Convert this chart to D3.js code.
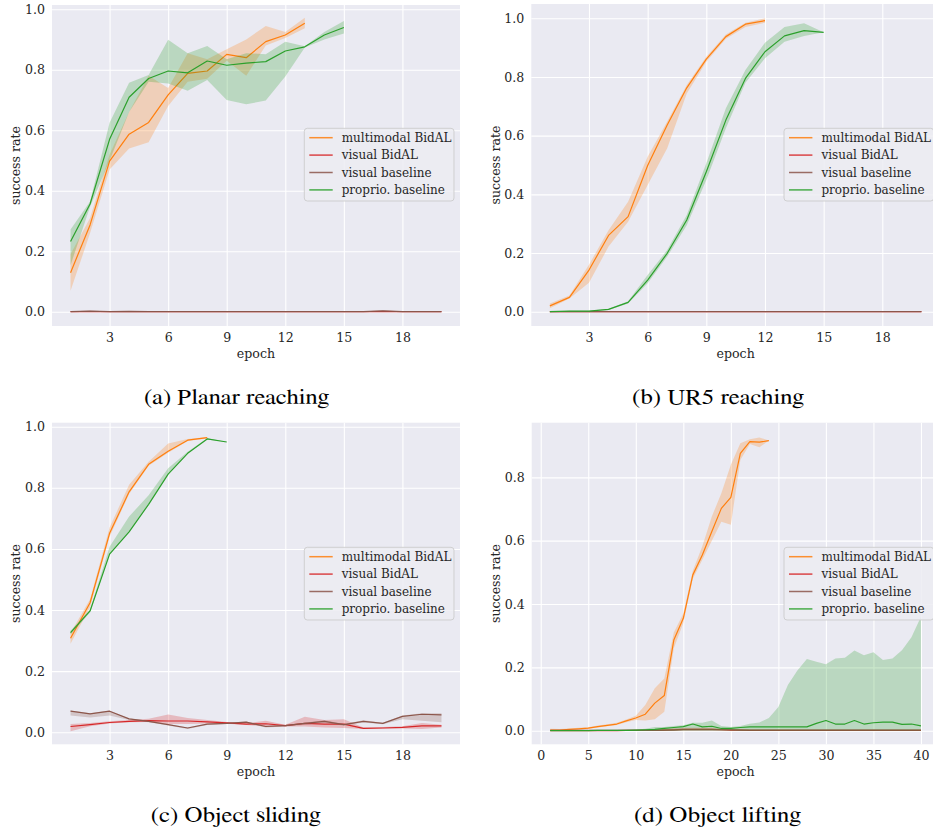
<!DOCTYPE html>
<html>
<head>
<meta charset="utf-8">
<script src="https://cdn.jsdelivr.net/npm/d3@7"></script>
<style>
  html, body { margin: 0; padding: 0; background: #ffffff; }
  svg { display: block; }
  .caption { font-family: "Nimbus Roman", "Nimbus Roman No9 L", "FreeSerif", "TeX Gyre Termes", "Liberation Serif", "DejaVu Serif Condensed", "DejaVu Serif", serif; font-stretch: condensed; }
</style>
</head>
<body>
<svg id="chart" width="933" height="830"></svg>
<script>
// ---------------- DATA ----------------
const seriesNames = ["multimodal BidAL", "visual BidAL", "visual baseline", "proprio. baseline"];
const seriesColors = ["#ff7f0e", "#d62728", "#8c564b", "#2ca02c"];
const captions = ["(a) Planar reaching", "(b) UR5 reaching", "(c) Object sliding", "(d) Object lifting"];

const ticksA = [3, 6, 9, 12, 15, 18];
const ticksD = [0, 5, 10, 15, 20, 25, 30, 35, 40];
const yTicksFull = [0.0, 0.2, 0.4, 0.6, 0.8, 1.0];
const yTicksD = [0.0, 0.2, 0.4, 0.6, 0.8];

// (a) Planar reaching
const aMultiMean = [0.129,0.287,0.498,0.587,0.626,0.717,0.788,0.796,0.851,0.840,0.893,0.915,0.954];
const aMultiLo   = [0.069,0.260,0.470,0.540,0.560,0.680,0.760,0.770,0.830,0.780,0.880,0.905,0.937];
const aMultiHi   = [0.190,0.310,0.520,0.660,0.780,0.740,0.855,0.835,0.868,0.900,0.945,0.925,0.972];
const aVisMean   = [0,0,0,0,0,0,0,0,0,0,0,0,0,0,0,0,0,0,0,0];
const aVisLo     = [0,0,0,0,0,0,0,0,0,0,0,0,0,0,0,0,0,0,0,0];
const aVisHi     = [0,0.001,0,0.001,0,0,0,0,0,0,0,0,0,0,0,0,0.001,0,0,0];
const aBaseMean  = [0,0.002,0,0.001,0,0,0,0,0,0,0,0,0,0,0,0,0.003,0,0,0];
const aBaseLo    = [0,0,0,0,0,0,0,0,0,0,0,0,0,0,0,0,0,0,0,0];
const aBaseHi    = [0.001,0.004,0.001,0.002,0.001,0.001,0.001,0,0,0,0,0,0,0,0,0.001,0.005,0.001,0,0];
const aProMean   = [0.232,0.356,0.570,0.709,0.771,0.796,0.790,0.829,0.815,0.822,0.827,0.862,0.876,0.915,0.940];
const aProLo     = [0.154,0.347,0.500,0.660,0.760,0.755,0.731,0.766,0.700,0.686,0.698,0.778,0.874,0.900,0.920];
const aProHi     = [0.272,0.364,0.625,0.757,0.783,0.899,0.855,0.879,0.835,0.855,0.851,0.893,0.878,0.925,0.961];

// (b) UR5 reaching
const bMultiMean = [0.020,0.049,0.142,0.260,0.324,0.498,0.636,0.763,0.861,0.9375,0.980,0.992];
const bMultiLo   = [0.012,0.045,0.099,0.222,0.307,0.432,0.557,0.744,0.852,0.930,0.970,0.985];
const bMultiHi   = [0.028,0.055,0.160,0.278,0.375,0.528,0.648,0.773,0.869,0.945,0.985,1.000];
const bVisMean   = [0,0,0,0,0,0,0,0,0,0,0,0,0,0,0,0,0,0,0,0];
const bBaseMean  = [0,0,0,0,0,0,0,0,0,0,0,0,0,0,0,0,0,0,0,0];
const bProMean   = [0,0.002,0.002,0.008,0.032,0.108,0.199,0.3125,0.477,0.653,0.795,0.886,0.940,0.958,0.952];
const bProLo     = [0,0.001,0.001,0.006,0.028,0.097,0.188,0.295,0.449,0.625,0.780,0.864,0.920,0.940,0.952];
const bProHi     = [0,0.003,0.003,0.010,0.036,0.125,0.210,0.330,0.506,0.693,0.824,0.917,0.970,0.983,0.952];

// (c) Object sliding
const cMultiMean = [0.3075,0.424,0.651,0.787,0.877,0.920,0.956,0.964];
const cMultiLo   = [0.290,0.410,0.640,0.780,0.872,0.915,0.953,0.961];
const cMultiHi   = [0.325,0.435,0.670,0.810,0.885,0.945,0.960,0.966];
const cVisMean   = [0.019,0.025,0.032,0.036,0.038,0.037,0.037,0.034,0.031,0.027,0.028,0.022,0.029,0.027,0.027,0.013,0.014,0.016,0.021,0.021];
const cVisLo     = [0.003,0.020,0.029,0.033,0.034,0.027,0.027,0.029,0.028,0.024,0.019,0.019,0.019,0.016,0.014,0.011,0.012,0.012,0.011,0.016];
const cVisHi     = [0.027,0.030,0.036,0.040,0.044,0.058,0.047,0.040,0.034,0.030,0.038,0.025,0.051,0.040,0.043,0.016,0.017,0.020,0.030,0.025];
const cBaseMean  = [0.069,0.060,0.069,0.044,0.036,0.025,0.014,0.027,0.029,0.033,0.019,0.022,0.029,0.036,0.025,0.036,0.029,0.052,0.059,0.057];
const cBaseLo    = [0.055,0.048,0.055,0.040,0.033,0.022,0.011,0.024,0.027,0.030,0.016,0.019,0.025,0.031,0.021,0.032,0.026,0.043,0.038,0.033];
const cBaseHi    = [0.071,0.062,0.071,0.045,0.038,0.027,0.016,0.029,0.031,0.035,0.021,0.024,0.031,0.039,0.027,0.039,0.031,0.055,0.062,0.062];
const cProMean   = [0.326,0.397,0.583,0.656,0.746,0.845,0.913,0.960,0.950];
const cProLo     = [0.320,0.392,0.583,0.656,0.746,0.845,0.913,0.958,0.950];
const cProHi     = [0.332,0.402,0.607,0.706,0.776,0.864,0.918,0.962,0.950];

// (d) Object lifting
const dMultiMean = [0.002,0.002,0.004,0.006,0.008,0.013,0.017,0.021,0.031,0.040,0.052,0.087,0.111,0.286,0.355,0.492,0.555,0.629,0.702,0.737,0.876,0.913,0.911,0.916];
const dMultiLo   = [0.000,0.000,0.002,0.004,0.006,0.010,0.014,0.018,0.027,0.034,0.032,0.036,0.060,0.260,0.340,0.480,0.540,0.600,0.660,0.650,0.855,0.905,0.895,0.916];
const dMultiHi   = [0.006,0.005,0.007,0.009,0.011,0.016,0.020,0.025,0.035,0.047,0.081,0.134,0.165,0.310,0.370,0.505,0.582,0.676,0.750,0.840,0.908,0.920,0.926,0.916];
const dVisMean   = [0,0,0,0,0,0,0,0,0.001,0.001,0.001,0.001,0.002,0.003,0.004,0.004,0.004,0.004,0.003,0.002,0.002,0.001,0.001,0.001,0.001,0.001,0.001,0.001,0.001,0.001,0.001,0.001,0.001,0.001,0.001,0.001,0.001,0.001,0.001,0.001];
const dVisLo     = [0,0,0,0,0,0,0,0,0,0,0,0,0,0,0,0,0,0,0,0,0,0,0,0,0,0,0,0,0,0,0,0,0,0,0,0,0,0,0,0];
const dVisHi     = [0.001,0.001,0.001,0.001,0.001,0.001,0.001,0.001,0.002,0.002,0.003,0.004,0.006,0.008,0.009,0.009,0.009,0.009,0.008,0.006,0.005,0.003,0.003,0.003,0.003,0.003,0.003,0.003,0.003,0.003,0.003,0.003,0.003,0.003,0.003,0.003,0.003,0.003,0.003,0.003];
const dBaseMean  = [0.001,0.001,0.001,0.001,0.001,0.001,0.001,0.001,0.001,0.001,0.001,0.001,0.002,0.002,0.003,0.003,0.003,0.003,0.003,0.003,0.002,0.002,0.002,0.002,0.002,0.002,0.002,0.002,0.002,0.002,0.002,0.002,0.002,0.002,0.002,0.002,0.002,0.002,0.002,0.002];
const dProMean   = [0,0,0,0,0,0.001,0.001,0.001,0.001,0.002,0.003,0.004,0.007,0.010,0.013,0.021,0.012,0.014,0.007,0.007,0.010,0.012,0.012,0.012,0.012,0.012,0.012,0.012,0.023,0.032,0.021,0.021,0.032,0.021,0.025,0.027,0.027,0.020,0.021,0.015];
const dProLo     = [0,0,0,0,0,0,0,0,0,0,0,0,0,0,0,0,0,0,0,0,0,0,0,0,0,0,0,0,0,0,0,0,0,0,0,0,0,0,0,0];
const dProHi     = [0.002,0.002,0.002,0.002,0.002,0.002,0.002,0.002,0.003,0.004,0.006,0.012,0.012,0.015,0.017,0.025,0.025,0.032,0.015,0.012,0.015,0.022,0.026,0.040,0.075,0.144,0.190,0.226,0.218,0.210,0.228,0.230,0.253,0.238,0.248,0.223,0.228,0.254,0.295,0.360];

// ---------------- LAYOUT ----------------
const panels = [
  { box: {l: 52, r: 460, t: 5, b: 326}, xDom: [0.05, 20.95], yDom: [-0.0473, 1.0142], xTicks: ticksA, yTicks: yTicksFull,
    ylabX: 15, legend: {x: 304.3, y: 128.3}, cap: {x: 236.5, y: 403.5, w: 185},
    series: [[aMultiMean, aMultiLo, aMultiHi], [aVisMean, aVisLo, aVisHi], [aBaseMean, aBaseLo, aBaseHi], [aProMean, aProLo, aProHi]] },
  { box: {l: 531.3, r: 940, t: 4, b: 326}, xDom: [0.05, 20.95], yDom: [-0.0487, 1.0487], xTicks: ticksA, yTicks: yTicksFull,
    ylabX: 495, legend: {x: 784, y: 128.3}, cap: {x: 718, y: 403.5, w: 172},
    series: [[bMultiMean, bMultiLo, bMultiHi], [bVisMean, bVisMean, bVisMean], [bBaseMean, bBaseMean, bBaseMean], [bProMean, bProLo, bProHi]] },
  { box: {l: 52, r: 460, t: 422.7, b: 744.3}, xDom: [0.05, 20.95], yDom: [-0.0393, 1.0131], xTicks: ticksA, yTicks: yTicksFull,
    ylabX: 15, legend: {x: 304.3, y: 547.3}, cap: {x: 235.7, y: 821.7, w: 170},
    series: [[cMultiMean, cMultiLo, cMultiHi], [cVisMean, cVisLo, cVisHi], [cBaseMean, cBaseLo, cBaseHi], [cProMean, cProLo, cProHi]] },
  { box: {l: 531.7, r: 939.5, t: 422.7, b: 744.3}, xDom: [-0.95, 41.95], yDom: [-0.043, 0.9725], xTicks: ticksD, yTicks: yTicksD,
    ylabX: 495, legend: {x: 784, y: 547.3}, cap: {x: 717.5, y: 821.7, w: 167},
    series: [[dMultiMean, dMultiLo, dMultiHi], [dVisMean, dVisLo, dVisHi], [dBaseMean, dBaseMean, dBaseMean], [dProMean, dProLo, dProHi]] }
];

const svg = d3.select("#chart");
svg.append("rect").attr("width", 933).attr("height", 830).attr("fill", "#ffffff");

const tickFont = "'DejaVu Serif', serif";
const textColor = "#262626";

panels.forEach((p, pi) => {
  const x = d3.scaleLinear().domain(p.xDom).range([p.box.l, p.box.r]);
  const y = d3.scaleLinear().domain(p.yDom).range([p.box.b, p.box.t]);
  const g = svg.append("g");
  const clipId = "clip" + pi;
  g.append("clipPath").attr("id", clipId).append("rect")
    .attr("x", p.box.l).attr("y", p.box.t).attr("width", p.box.r - p.box.l).attr("height", p.box.b - p.box.t);

  g.append("rect").attr("x", p.box.l).attr("y", p.box.t)
    .attr("width", p.box.r - p.box.l).attr("height", p.box.b - p.box.t).attr("fill", "#eaeaf2");

  const xGrid = d3.axisBottom(x).tickValues(p.xTicks).tickSize(-(p.box.b - p.box.t)).tickFormat("");
  const gx = g.append("g").attr("transform", `translate(0,${p.box.b})`).call(xGrid);
  gx.select(".domain").remove();
  gx.selectAll("line").attr("stroke", "#ffffff").attr("stroke-width", 1.1);

  const yGrid = d3.axisLeft(y).tickValues(p.yTicks).tickSize(-(p.box.r - p.box.l)).tickFormat("");
  const gy = g.append("g").attr("transform", `translate(${p.box.l},0)`).call(yGrid);
  gy.select(".domain").remove();
  gy.selectAll("line").attr("stroke", "#ffffff").attr("stroke-width", 1.1);

  const xLab = d3.axisBottom(x).tickValues(p.xTicks).tickSize(0).tickPadding(7).tickFormat(d3.format("d"));
  const gxl = g.append("g").attr("transform", `translate(0,${p.box.b})`).call(xLab);
  gxl.select(".domain").remove();
  gxl.selectAll("text").attr("font-family", tickFont).attr("font-size", 12.6).attr("fill", textColor);

  const yLab = d3.axisLeft(y).tickValues(p.yTicks).tickSize(0).tickPadding(7).tickFormat(d3.format(".1f"));
  const gyl = g.append("g").attr("transform", `translate(${p.box.l},0)`).call(yLab);
  gyl.select(".domain").remove();
  gyl.selectAll("text").attr("font-family", tickFont).attr("font-size", 12.6).attr("fill", textColor);

  g.append("text").attr("x", (p.box.l + p.box.r) / 2)
    .attr("y", p.box.b + 31.5).attr("text-anchor", "middle")
    .attr("font-family", tickFont).attr("font-size", 12.6).attr("fill", textColor).text("epoch");
  g.append("text").attr("transform", `translate(${p.ylabX + 4.5},${(p.box.t + p.box.b) / 2}) rotate(-90)`)
    .attr("text-anchor", "middle")
    .attr("font-family", tickFont).attr("font-size", 12.6).attr("fill", textColor).text("success rate");

  const plot = g.append("g").attr("clip-path", `url(#${clipId})`);
  p.series.forEach((s, si) => {
    const [mean, lo, hi] = s;
    const pts = mean.map((m, i) => ({e: i + 1, m: m, lo: lo[i], hi: hi[i]}));
    const area = d3.area().x(d => x(d.e)).y0(d => y(d.lo)).y1(d => y(d.hi));
    plot.append("path").datum(pts).attr("d", area)
      .attr("fill", seriesColors[si]).attr("fill-opacity", 0.25).attr("stroke", "none");
    const line = d3.line().x(d => x(d.e)).y(d => y(d.m));
    plot.append("path").datum(pts).attr("d", line)
      .attr("fill", "none").attr("stroke", seriesColors[si]).attr("stroke-width", 1.2)
      .attr("stroke-linejoin", "round");
  });

  const lg = g.append("g").attr("transform", `translate(${p.legend.x},${p.legend.y})`);
  lg.append("rect").attr("x", 0).attr("y", 0).attr("width", 149.7).attr("height", 72.7)
    .attr("rx", 3).attr("ry", 3)
    .attr("fill", "#ececf2").attr("fill-opacity", 0.85)
    .attr("stroke", "#cccccc").attr("stroke-width", 0.9);
  seriesNames.forEach((name, si) => {
    const ry = 9.4 + si * 17.4;
    lg.append("line").attr("x1", 5).attr("x2", 28.4).attr("y1", ry).attr("y2", ry)
      .attr("stroke", seriesColors[si]).attr("stroke-width", 1.5).attr("stroke-opacity", 0.85);
    lg.append("text").attr("x", 37.4).attr("y", ry + 4.2)
      .attr("font-family", tickFont).attr("font-size", 12).attr("fill", textColor).text(name);
  });

  svg.append("text").attr("class", "caption").attr("x", p.cap.x).attr("y", p.cap.y).attr("text-anchor", "middle")
    .attr("font-size", 22)
    .attr("fill", "#000000").attr("textLength", p.cap.w).attr("lengthAdjust", "spacingAndGlyphs")
    .text(captions[pi]);
});
</script>
</body>
</html>
